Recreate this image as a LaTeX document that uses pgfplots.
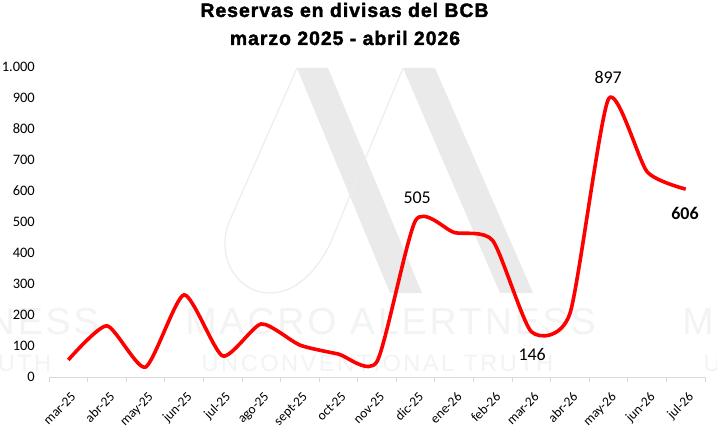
\documentclass[border=0pt]{standalone}
\usepackage{fontspec}
\setmainfont{Carlito}
\newfontfamily\titlefont{Liberation Sans}[FakeBold=1.8, LetterSpace=5]
\newfontfamily\wmfont{Liberation Sans}
\usepackage{pgfplots}
\pgfplotsset{compat=1.18}
\definecolor{wm}{HTML}{EAEAEA}
\definecolor{wmline}{HTML}{EDEDED}
\definecolor{wmtext}{HTML}{F3F3F3}
\definecolor{axisgray}{HTML}{D9D9D9}
\definecolor{linered}{HTML}{FF0000}

\pgfplotstableread{
x y
0 55
1 165
2 32
3 265
4 68
5 171
6 103
7 74
8 50
9 505
10 466
11 440
12 146
13 205
14 897
15 662
16 606
}\reservas

\begin{document}
\begin{tikzpicture}[x=1bp,y=1bp]
\useasboundingbox (0,0) rectangle (717,434);
\fill[white] (0,0) rectangle (717,434);
% watermark logo
\fill[wm] (297,366) -- (328,366) -- (422,141) -- (390,141) -- cycle;
\fill[wm] (403,366) -- (435,366) -- (533,141) -- (500,141) -- cycle;
\draw[wmline, line width=1.2bp] (297,366) -- (230,214) .. controls (215,180) and (235,141) .. (270,141) .. controls (300,141) and (320,170) .. (330,190) -- (403,366);
% watermark text
\foreach \cx in {-106.5,390.5,887.5}{
  \node[wmtext, inner sep=0pt, anchor=base, font=\wmfont\addfontfeatures{LetterSpace=7.7}\fontsize{37.7}{40}\selectfont] at (\cx,99) {MACRO ALERTNESS};
}
\foreach \cx in {-124.5,377.5,879.5}{
  \node[wmtext, inner sep=0pt, anchor=base, font=\wmfont\addfontfeatures{LetterSpace=10.5}\fontsize{23.7}{26}\selectfont] at (\cx,62) {UNCONVENTIONAL TRUTH};
}
% title
\node[inner sep=0pt, anchor=base, font=\titlefont\bfseries\fontsize{19.5}{22}\selectfont] at (344.5,417) {Reservas en divisas del BCB};
\node[inner sep=0pt, anchor=base, font=\titlefont\bfseries\fontsize{19.5}{22}\selectfont] at (345,389) {marzo 2025 - abril 2026};

\begin{axis}[
  at={(49bp,57bp)}, anchor=south west,
  scale only axis, width=656bp, height=310bp,
  xmin=-0.5, xmax=16.5, ymin=0, ymax=1000,
  axis lines*=left,
  y axis line style={draw=none},
  x axis line style={axisgray, line width=0.8bp},
  ytick={0,100,...,1000},
  /pgf/number format/1000 sep={.},
  /pgf/number format/assume math mode=true,
  y tick label style={font=\fontsize{14.5}{16}\selectfont, anchor=east, inner sep=0pt, xshift=-14bp},
  xtick={0,...,16},
  xticklabels={mar-25,abr-25,may-25,jun-25,jul-25,ago-25,sept-25,oct-25,nov-25,dic-25,ene-26,feb-26,mar-26,abr-26,may-26,jun-26,jul-26},
  x tick label style={font=\fontsize{13.5}{15}\selectfont, xshift=2bp, yshift=-14bp, rotate=45, anchor=north east, inner sep=0pt},
  minor xtick={-0.5,0.5,...,16.5},
  major tick length=0pt,
  minor tick length=5bp,
  tick align=outside,
  minor tick style={axisgray, line width=0.8bp},
  clip=false,
]
\addplot[linered, line width=3.6bp, smooth, tension=0.38] table[x=x,y=y] {\reservas};
\node[font=\fontsize{18}{20}\selectfont] at (axis cs:9.04,577) {505};
\node[font=\fontsize{18}{20}\selectfont] at (axis cs:12.02,71) {146};
\node[font=\fontsize{18}{20}\selectfont] at (axis cs:13.99,965) {897};
\node[font=\bfseries\fontsize{18}{20}\selectfont] at (axis cs:15.98,529) {606};
\end{axis}
\end{tikzpicture}
\end{document}
